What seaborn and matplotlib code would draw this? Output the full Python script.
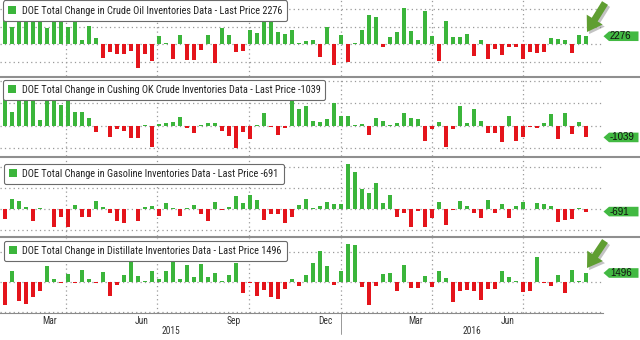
import matplotlib
matplotlib.use("Agg")
import numpy as np
import pandas as pd
import matplotlib.pyplot as plt
import matplotlib.dates as mdates
import matplotlib.patheffects as pe
from matplotlib import font_manager
from matplotlib.patches import Patch, Polygon, FancyArrowPatch
from matplotlib.lines import Line2D
import seaborn as sns

sns.set_style("white")

# pick the narrowest sans family available
_names = {f.name for f in font_manager.fontManager.ttflist}
FONT = next((f for f in ["Liberation Sans Narrow", "DejaVu Sans Condensed", "Roboto Condensed",
                         "Liberation Sans", "Roboto"] if f in _names), "DejaVu Sans")
plt.rcParams["font.family"] = [FONT, "DejaVu Sans"]

W, H = 640, 340

# Weekly DOE report weeks
weeks = pd.date_range("2015-01-30", periods=84, freq="7D")

# Weekly changes, thousands of barrels
crude = [8900, 5000, 7000, 7700, 8400, 10300, 4500, 9600, 8200, 4800, 10900, 1300, 5300, 1900,
         -3900, -2200, -2700, -2800, -1900, -6800, -2900, -4900,
         2400, 400, -4300, 2500, -4400, -4400, -1700, 2600, -5500, 4700, 2600, -2100, -1900,
         4000, 3100, 7600, 8000, 3400, 2800, 4200, 300, 1000, 1200,
         -3600, 4800, -5900, 2600, -5100, 200, 4000, 8400, 7800, -800, 2100, 3500, 10400, 3900, 1300, 9400, 2300,
         -4900, 6600, 2100, 2000, 2800, -3400, 1300, -4200, -1400, -3200, -900, -900, -4100, -2200, -2500, -2300,
         1700, 1400, 1100, -2500, 2500, 2276]

cushing = [2700, 1260, 2800, 2600, 2700, 510, 2900, 2700, 1860, 2700, 1260, 1260, 660,
           -540, -50, -990, -330, -450, -1050, -1050, 60, -1890, 150, 270, 360, 750, -240, -630, 30,
           270, 210, -450, -930, -1980, -540, -1140, 60, 1110, -90, -840, -240, 2250, 1470, 1710, 450, 360,
           570, 2000, 870, 870, 60, 150, -840, 660, 450, 60, 270, 1170, 660, 570, -1350, -330, 360, -1890,
           -330, 1710, 270, 1470, 450, -690, -690, -1440, 870, -1350, -990, -150, -240, 210, 1050, -1170,
           1110, -750, 360, -1039]

gasoline = [-2440, 2440, 1870, 400, -3010, 150, -150, -4470, -2030, -4470, 810, -2030, -2030, 1870, 400,
            -1060, -2850, -3500, -150, -3010, 400, 570, -1870, 1380, 100, -1870, 150, 810, -1380, -2850,
            1630, -300, 300, 3010, 1380, 3250, 2030, -2680, -1380, -1220, -3420, -2030, 810, 2280, 250,
            570, 1540, 1220, 1220, 10740, 8700, 4640, 3660, 6100, 1380, 3170, -2030, -1060, -4310, -650,
            -4310, -2280, 1540, -3900, -240, 1790, 570, -1060, -2280, 2200, -1060, 1140, -2280, 570, 1540,
            -100, 1380, 1140, 570, -3090, -2680, -2520, 150, -691]

distillate = [-3790, 1890, -3120, -3670, -2560, -1560, 2620, 560, -170, 1340, -170, 2060, 560, -100, 1610,
              -2400, -450, 1110, 4000, 950, 220, 1890, 560, 1780, 4000, 500, 2780, 780, 3010, 780, 1500,
              220, 1110, 3170, -1890, -170, -2400, -1340, -2560, -2780, -1110, 560, -720, 1220, 3170, 5120,
              2620, -560, 1890, 6350, 6120, -890, -3900, -720, 1340, 1500, -1450, 2900, -1000, -1000, 1060,
              -890, 1890, 670, -3340, -1560, -1280, -1450, -3010, -1110, -1110, 1890, 780, 220, -1670,
              -1450, 4120, -220, -720, 1220, -1840, 2060, 170, 1496]

series_titles = [
    "DOE Total Change in Crude Oil Inventories Data - Last Price 2276",
    "DOE Total Change in Cushing OK Crude Inventories Data - Last Price -1039",
    "DOE Total Change in Gasoline Inventories Data - Last Price -691",
    "DOE Total Change in Distillate Inventories Data - Last Price 1496",
]
last_prices = ["2276", "-1039", "-691", "1496"]
month_labels = ["Mar", "Jun", "Sep", "Dec", "Mar", "Jun"]
year_labels = ["2015", "2016"]

GREEN = "#3bb53b"
RED = "#e4141b"
TAG = "#42b942"
GRID = "#9a9a9a"
DOTS = (0, (1, 2.5))


def px(x, y):
    """Pixel position (from top-left) to figure fraction."""
    return x / W, 1 - y / H


fig = plt.figure(figsize=(W / 100, H / 100), dpi=100)

# size the legend font so the crude title spans about 264 px
_renderer = fig.canvas.get_renderer()
_probe = fig.text(0, 0, series_titles[0], fontsize=10, family=FONT)
_w = _probe.get_window_extent(_renderer).width
_probe.remove()
LEG_SIZE = min(7.4, 10 * 264 / _w)
TICK_SIZE = LEG_SIZE * 0.93

panels = [
    dict(values=crude, top=0, bottom=76, ylim=(-9095, 12640), grid=[-5000, 0, 5000, 10000], legend=(3, 0.5)),
    dict(values=cushing, top=78, bottom=156, ylim=(-2690, 4240), grid=[-2000, 0, 2000, 4000], legend=(3, 79.5)),
    dict(values=gasoline, top=158, bottom=236, ylim=(-6550, 12170), grid=[-5000, 0, 5000, 10000], legend=(4, 163.5)),
    dict(values=distillate, top=238, bottom=312.5, ylim=(-5070, 7310), grid=[-5000, 0, 5000], legend=(4, 240.5)),
]

x0 = mdates.date2num(pd.Timestamp("2016-01-01")) - 341
xlim = (x0, x0 + 603)
quarter_starts = mdates.date2num(pd.to_datetime(
    ["2015-04-01", "2015-07-01", "2015-10-01", "2016-01-01", "2016-04-01", "2016-07-01"]))
month_starts = mdates.date2num(pd.date_range("2015-02-01", "2016-09-01", freq="MS"))
month_mids = mdates.date2num(pd.to_datetime(
    ["2015-03-16", "2015-06-16", "2015-09-16", "2015-12-16", "2016-03-16", "2016-06-16"]))

axes = []
for k, p in enumerate(panels):
    ax = fig.add_axes([0, 1 - p["bottom"] / H, 603 / W, (p["bottom"] - p["top"]) / H])
    df = pd.DataFrame({"day": mdates.date2num(weeks), "change": p["values"]})
    df["dir"] = np.where(df["change"] >= 0, "up", "down")
    sns.barplot(data=df, x="day", y="change", hue="dir", hue_order=["up", "down"],
                palette={"up": GREEN, "down": RED}, native_scale=True, dodge=False,
                width=0.66, saturation=1, errorbar=None, legend=False, linewidth=0, ax=ax)
    ax.set_xlim(*xlim)
    ax.set_ylim(*p["ylim"])
    ax.set_xlabel("")
    ax.set_ylabel("")
    for g in p["grid"]:
        ax.axhline(g, color=GRID, lw=0.9, ls=DOTS, zorder=0)
    for q in quarter_starts:
        ax.axvline(q, color=GRID, lw=0.9, ls=DOTS, zorder=0)
    for s in ax.spines.values():
        s.set_visible(False)
    ax.set_yticks([])
    if k < 3:
        ax.set_xticks([])
    else:
        ax.spines["bottom"].set_visible(True)
        ax.spines["bottom"].set_color("#8a8a8a")
        ax.spines["bottom"].set_linewidth(0.8)
        ax.set_xticks(month_starts)
        ax.set_xticklabels([])
        ax.set_xticks(month_mids, minor=True)
        ax.set_xticklabels(month_labels, minor=True)
        ax.tick_params(axis="x", which="major", length=3, width=0.6, color="#777777", direction="out")
        ax.tick_params(axis="x", which="minor", length=0, pad=2.5, labelsize=TICK_SIZE, labelcolor="#333333")

    handle = Patch(facecolor=GREEN, edgecolor="none")
    leg = ax.legend([handle], [series_titles[k]], loc="upper left",
                    bbox_to_anchor=px(*p["legend"]), bbox_transform=fig.transFigure,
                    borderaxespad=0, frameon=True, fancybox=True, fontsize=LEG_SIZE,
                    handlelength=0.8, handleheight=0.8, handletextpad=0.5,
                    borderpad=0.5, framealpha=1, facecolor="white", edgecolor="#6b6b6b")
    leg.get_frame().set_linewidth(0.8)
    for t in leg.get_texts():
        t.set_color("#222222")

    # value tag at the right edge
    last = p["values"][-1]
    yc = H - ax.transData.transform((xlim[0], last))[1]
    tag = Polygon([px(603.5, yc), px(609, yc - 4.8), px(638.5, yc - 4.8),
                   px(638.5, yc + 4.8), px(609, yc + 4.8)], closed=True,
                  transform=fig.transFigure, facecolor=TAG, edgecolor="none")
    fig.add_artist(tag)
    fig.text(*px(610, yc), last_prices[k], ha="left", va="center", fontsize=7,
             color="#111111", family="Liberation Sans")
    axes.append(ax)

# panel separators
for y in (76.8, 156.8, 236.8):
    fig.add_artist(Line2D([0, 1], [1 - y / H] * 2, transform=fig.transFigure,
                          color="#8f8f8f", lw=1.5))

# year labels and year divider
for label, xc in zip(year_labels, (171, 472)):
    fig.text(*px(xc, 330.5), label, ha="center", va="center", fontsize=TICK_SIZE, color="#333333")
fig.add_artist(Line2D([341 / W] * 2, [1 - 313 / H, 1 - 334 / H], transform=fig.transFigure,
                      color="#888888", lw=0.6))

# highlight arrows pointing at the latest crude and distillate prints
for tail, tip in [((605, 3), (587, 32)), ((605, 241), (587, 268))]:
    arr = FancyArrowPatch(px(*tail), px(*tip), transform=fig.transFigure,
                          arrowstyle="simple,head_length=1.05,head_width=1.35,tail_width=0.5",
                          mutation_scale=10, shrinkA=0, shrinkB=0,
                          facecolor="#5f9e31", edgecolor="none",
                          path_effects=[pe.SimplePatchShadow(offset=(1.5, -1.5), shadow_rgbFace="#888888", alpha=0.5),
                                        pe.Normal()])
    fig.add_artist(arr)

fig.savefig("out.png", dpi=100, facecolor="white")
